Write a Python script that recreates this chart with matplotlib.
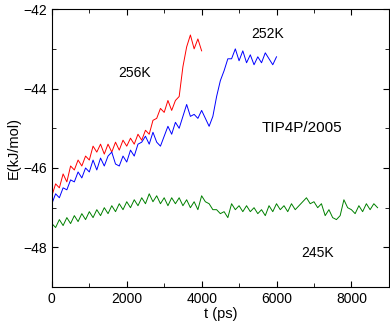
import numpy as np
import matplotlib
matplotlib.use('Agg')
import matplotlib.pyplot as plt
from matplotlib.ticker import MultipleLocator

plt.rcParams['font.family'] = ['Liberation Sans', 'DejaVu Sans']

# energy traces sampled every 100 ps
t_256 = np.arange(0, 4001, 100)
e_256 = [-46.7, -46.4, -46.5, -46.15, -46.35, -45.95, -46.05, -45.8, -45.95, -45.7,
         -45.8, -45.45, -45.6, -45.4, -45.65, -45.4, -45.6, -45.35, -45.55, -45.3,
         -45.45, -45.25, -45.4, -45.15, -45.3, -45.05, -45.15, -44.8, -44.75, -44.5,
         -44.6, -44.3, -44.55, -44.3, -44.2, -43.45, -42.95, -42.65, -43.0, -42.75,
         -43.05]

t_252 = np.arange(0, 6001, 100)
e_252 = [-46.9, -46.65, -46.75, -46.5, -46.55, -46.3, -46.35, -46.1, -46.25, -46.0,
         -46.1, -45.8, -46.05, -45.75, -45.95, -45.7, -45.6, -45.9, -45.95, -45.7,
         -45.85, -45.55, -45.7, -45.4, -45.35, -45.2, -45.4, -45.1, -45.35, -45.45,
         -45.2, -44.95, -45.15, -44.85, -45.0, -44.7, -44.4, -44.7, -44.65, -44.75,
         -44.55, -44.75, -44.95, -44.7, -44.2, -43.8, -43.55, -43.25, -43.25, -43.0,
         -43.3, -43.05, -43.35, -43.15, -43.4, -43.2, -43.35, -43.1, -43.25, -43.4,
         -43.2]

t_245 = np.arange(0, 8701, 100)
e_245 = [-47.4, -47.5, -47.3, -47.45, -47.25, -47.4, -47.2, -47.35, -47.15, -47.3,
         -47.1, -47.25, -47.05, -47.2, -47.0, -47.15, -46.95, -47.1, -46.9, -47.05,
         -46.85, -47.0, -46.8, -46.95, -46.75, -46.9, -46.65, -46.85, -46.7, -46.9,
         -46.75, -46.95, -46.75, -46.9, -46.75, -46.95, -46.8, -47.0, -46.85, -47.05,
         -46.7, -46.85, -46.9, -47.05, -47.05, -47.15, -47.1, -47.25, -46.9, -47.05,
         -46.95, -47.1, -46.95, -47.1, -47.0, -47.15, -47.05, -47.2, -46.95, -47.1,
         -46.9, -47.05, -46.95, -47.1, -46.9, -47.05, -46.95, -46.85, -46.75, -46.9,
         -46.85, -47.0, -46.9, -47.2, -47.05, -47.25, -47.3, -47.2, -46.8, -47.0,
         -47.05, -47.15, -46.95, -47.1, -46.9, -47.05, -46.9, -47.0]

fig = plt.figure(figsize=(3.9, 3.27), dpi=100)
ax = fig.add_axes([0.133, 0.122, 0.864, 0.85])

ax.plot(t_256, e_256, color='red', lw=0.7)
ax.plot(t_252, e_252, color='blue', lw=0.7)
ax.plot(t_245, e_245, color='green', lw=0.7)

ax.text(2200, -43.6, '256K', fontsize=10, ha='center', va='center')
ax.text(5760, -42.63, '252K', fontsize=10, ha='center', va='center')
ax.text(6690, -45.0, 'TIP4P/2005', fontsize=11, ha='center', va='center')
ax.text(7090, -48.13, '245K', fontsize=10, ha='center', va='center')

ax.set_xlim(0, 9000)
ax.set_ylim(-49, -42)
ax.set_xticks([0, 2000, 4000, 6000, 8000])
ax.set_yticks([-48, -46, -44, -42])
ax.xaxis.set_minor_locator(MultipleLocator(1000))
ax.yaxis.set_minor_locator(MultipleLocator(1))
ax.tick_params(which='both', direction='in', top=True, right=True, labelsize=10)
ax.tick_params(which='major', length=4)
ax.tick_params(which='minor', length=3)
ax.set_xlabel('t (ps)', fontsize=10.5, labelpad=1)
ax.set_ylabel('E(kJ/mol)', fontsize=10.5, labelpad=2)

fig.savefig('out.png', dpi=100)
